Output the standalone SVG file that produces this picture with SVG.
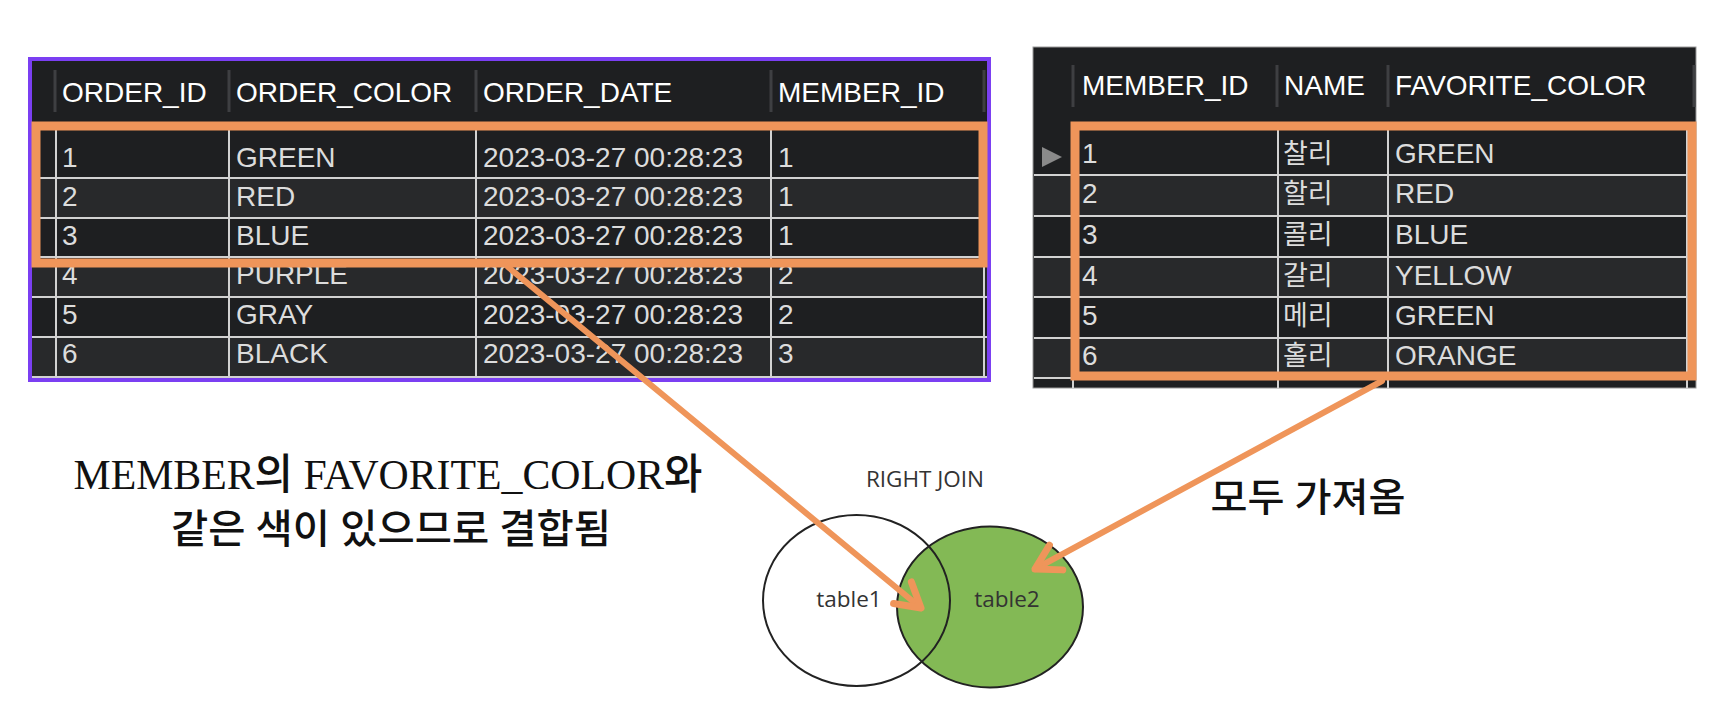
<svg xmlns="http://www.w3.org/2000/svg" width="1730" height="720" viewBox="0 0 1730 720">
<style>
.bg{fill:#1e1f21}
.alt{fill:#28292b}
.grid{stroke:#d2d2d2;stroke-width:2}
.hsep{stroke:#3e3f42;stroke-width:3}
.hd{font-family:"Liberation Sans",Arial,sans-serif;font-size:28px;fill:#ffffff}
.cell{font-family:"Liberation Sans",Arial,sans-serif;font-size:28px;fill:#dcdcdc}
.ko{font-family:"Noto Sans CJK KR",sans-serif;font-size:27px;fill:#dcdcdc}
.hl{fill:none;stroke:#EF955A;stroke-width:9}
.arrow{fill:none;stroke:#EF955A;stroke-width:6;stroke-linecap:round;marker-end:url(#ah)}
.venn{font-family:"Open Sans","Liberation Sans",sans-serif;font-size:22.5px;fill:#333333}
.note{font-family:"Liberation Serif","Noto Sans CJK KR",serif;fill:#111111;font-weight:500}
</style>
<defs>
<marker id="ah" markerUnits="userSpaceOnUse" viewBox="-30 -20 40 40" markerWidth="40" markerHeight="40" refX="0" refY="0" orient="auto" overflow="visible">
<path d="M-24,-14 L0,0 L-24,14" fill="none" stroke="#EF955A" stroke-width="7" stroke-linecap="round" stroke-linejoin="round"/>
</marker>
</defs>
<rect width="1730" height="720" fill="#ffffff"/>

<g id="orders">
<rect x="30" y="59" width="959" height="321" class="bg"/>
<rect x="32" y="178" width="955" height="40" class="alt"/>
<rect x="32" y="257" width="955" height="40" class="alt"/>
<rect x="32" y="337" width="955" height="40" class="alt"/>
<g class="hsep">
<line x1="55" y1="70" x2="55" y2="112"/>
<line x1="229" y1="70" x2="229" y2="112"/>
<line x1="476" y1="70" x2="476" y2="112"/>
<line x1="771" y1="70" x2="771" y2="112"/>
<line x1="984" y1="70" x2="984" y2="112"/>
</g>
<text class="hd" x="62" y="102">ORDER_ID</text>
<text class="hd" x="236" y="102">ORDER_COLOR</text>
<text class="hd" x="483" y="102">ORDER_DATE</text>
<text class="hd" x="778" y="102">MEMBER_ID</text>
<g class="grid">
<line x1="32" y1="178" x2="987" y2="178"/>
<line x1="32" y1="218" x2="987" y2="218"/>
<line x1="32" y1="257" x2="987" y2="257"/>
<line x1="32" y1="297" x2="987" y2="297"/>
<line x1="32" y1="337" x2="987" y2="337"/>
<line x1="32" y1="377" x2="987" y2="377"/>
<line x1="56" y1="130" x2="56" y2="378"/>
<line x1="229" y1="130" x2="229" y2="378"/>
<line x1="476" y1="130" x2="476" y2="378"/>
<line x1="771" y1="130" x2="771" y2="378"/>
<line x1="984" y1="130" x2="984" y2="378"/>
</g>
<g class="cell">
<text x="62" y="167">1</text><text x="236" y="167">GREEN</text><text x="483" y="167">2023-03-27 00:28:23</text><text x="778" y="167">1</text>
<text x="62" y="206">2</text><text x="236" y="206">RED</text><text x="483" y="206">2023-03-27 00:28:23</text><text x="778" y="206">1</text>
<text x="62" y="245">3</text><text x="236" y="245">BLUE</text><text x="483" y="245">2023-03-27 00:28:23</text><text x="778" y="245">1</text>
<text x="62" y="284">4</text><text x="236" y="284">PURPLE</text><text x="483" y="284">2023-03-27 00:28:23</text><text x="778" y="284">2</text>
<text x="62" y="324">5</text><text x="236" y="324">GRAY</text><text x="483" y="324">2023-03-27 00:28:23</text><text x="778" y="324">2</text>
<text x="62" y="363">6</text><text x="236" y="363">BLACK</text><text x="483" y="363">2023-03-27 00:28:23</text><text x="778" y="363">3</text>
</g>
<rect x="30" y="59" width="959" height="321" fill="none" stroke="#7B3FF2" stroke-width="4"/>
<rect x="36" y="126" width="947" height="137" class="hl"/>
</g>

<g id="members">
<rect x="1033" y="47" width="663" height="341" class="bg" stroke="#9a9a9a" stroke-width="1"/>
<rect x="1034" y="175" width="661" height="41" class="alt"/>
<rect x="1034" y="257" width="661" height="40" class="alt"/>
<rect x="1034" y="338" width="661" height="40" class="alt"/>
<g class="hsep">
<line x1="1073" y1="65" x2="1073" y2="107"/>
<line x1="1277" y1="65" x2="1277" y2="107"/>
<line x1="1388" y1="65" x2="1388" y2="107"/>
<line x1="1694" y1="65" x2="1694" y2="107"/>
</g>
<text class="hd" x="1082" y="95" font-size="29">MEMBER_ID</text>
<text class="hd" x="1284" y="95" font-size="29">NAME</text>
<text class="hd" x="1395" y="95" font-size="29">FAVORITE_COLOR</text>
<g class="grid">
<line x1="1034" y1="175" x2="1695" y2="175"/>
<line x1="1034" y1="216" x2="1695" y2="216"/>
<line x1="1034" y1="257" x2="1695" y2="257"/>
<line x1="1034" y1="297" x2="1695" y2="297"/>
<line x1="1034" y1="338" x2="1695" y2="338"/>
<line x1="1034" y1="378" x2="1695" y2="378"/>
<line x1="1073" y1="128" x2="1073" y2="388"/>
<line x1="1278" y1="128" x2="1278" y2="388"/>
<line x1="1388" y1="128" x2="1388" y2="388"/>
<line x1="1687" y1="128" x2="1687" y2="388"/>
</g>
<path d="M1042,147 L1062,157 L1042,167 Z" fill="#8a8a8a"/>
<g class="cell" font-size="29">
<text x="1082" y="163">1</text><text x="1395" y="163">GREEN</text>
<text x="1082" y="203">2</text><text x="1395" y="203">RED</text>
<text x="1082" y="244">3</text><text x="1395" y="244">BLUE</text>
<text x="1082" y="285">4</text><text x="1395" y="285">YELLOW</text>
<text x="1082" y="325">5</text><text x="1395" y="325">GREEN</text>
<text x="1082" y="365">6</text><text x="1395" y="365">ORANGE</text>
</g>
<g class="ko">
<text x="1283" y="163">찰리</text>
<text x="1283" y="203">할리</text>
<text x="1283" y="244">콜리</text>
<text x="1283" y="285">갈리</text>
<text x="1283" y="325">메리</text>
<text x="1283" y="365">홀리</text>
</g>
<rect x="1075" y="126" width="617" height="250" class="hl"/>
</g>

<g id="venn">
<text class="venn" x="925" y="487" text-anchor="middle" font-size="24">RIGHT JOIN</text>
<ellipse cx="990" cy="607" rx="93" ry="80.5" fill="#83B955"/>
<ellipse cx="856.5" cy="600.5" rx="93.5" ry="85.5" fill="none" stroke="#222222" stroke-width="2"/>
<ellipse cx="990" cy="607" rx="93" ry="80.5" fill="none" stroke="#222222" stroke-width="2"/>
<text class="venn" x="849" y="607" text-anchor="middle">table1</text>
<text class="venn" x="1007" y="607" text-anchor="middle">table2</text>
</g>

<g id="note-left">
<text class="note" x="388" y="489" font-size="42" text-anchor="middle" textLength="629" lengthAdjust="spacingAndGlyphs">MEMBER의 FAVORITE_COLOR와</text>
<text class="note" x="391" y="543" font-size="40" text-anchor="middle" textLength="440" lengthAdjust="spacingAndGlyphs">같은 색이 있으므로 결합됨</text>
</g>
<g id="note-right">
<text class="note" x="1308" y="511" font-size="39" text-anchor="middle" textLength="195" lengthAdjust="spacingAndGlyphs">모두 가져옴</text>
</g>

<g id="connectors">
<line class="arrow" x1="508" y1="267" x2="921" y2="608"/>
<line class="arrow" x1="1382" y1="381" x2="1035" y2="569"/>
</g>
</svg>
